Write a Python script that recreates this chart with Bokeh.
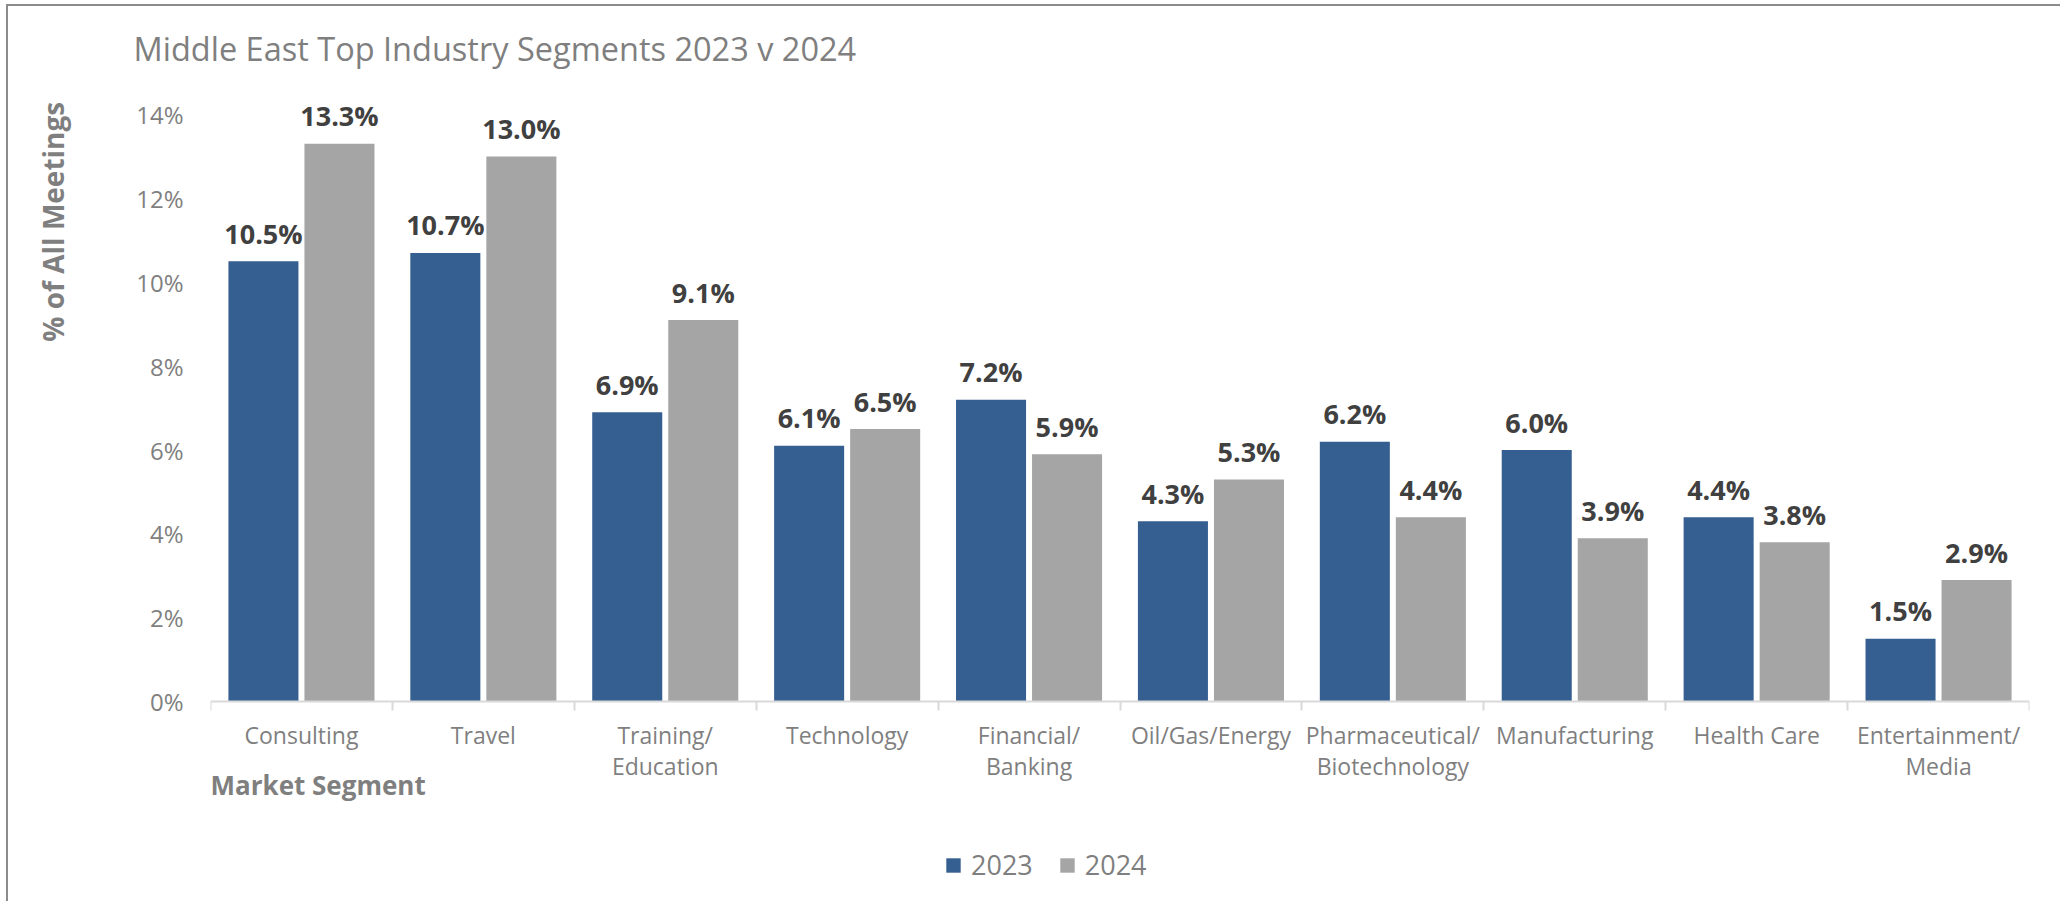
from bokeh.plotting import figure
from bokeh.models import (ColumnDataSource, Range1d, FixedTicker, PrintfTickFormatter,
                          Title, Legend, LegendItem, Label)
from bokeh.transform import dodge
from bokeh.core.properties import value
from bokeh.embed import file_html
from bokeh.resources import INLINE

categories = ["Consulting", "Travel", "Training/\nEducation", "Technology", "Financial/\nBanking",
              "Oil/Gas/Energy", "Pharmaceutical/\nBiotechnology", "Manufacturing", "Health Care",
              "Entertainment/\nMedia"]
values_2023 = [10.5, 10.7, 6.9, 6.1, 7.2, 4.3, 6.2, 6.0, 4.4, 1.5]
values_2024 = [13.3, 13.0, 9.1, 6.5, 5.9, 5.3, 4.4, 3.9, 3.8, 2.9]
y_ticks = [0, 2, 4, 6, 8, 10, 12, 14]
series_names = ["2023", "2024"]
title_text = "Middle East Top Industry Segments 2023 v 2024"
y_label = "% of All  Meetings"
x_label = "Market Segment"

FONT = "Open Sans"
BLUE = "#365F91"
GRAY = "#A5A5A5"
TXT = "#7F7F7F"

# layout (canvas pixels)
W, H = 2054, 897
TOP, LEFT, RIGHT = 80, 202, 33
ZERO_Y = 695           # canvas y of the 0% baseline
PX_PER_UNIT = 42.0     # pixels per 1 percentage point
y_end = (ZERO_Y - TOP) / PX_PER_UNIT
y_start = -(H - ZERO_Y) / PX_PER_UNIT

n = len(categories)
centers = [i + 0.5 for i in range(n)]
src = ColumnDataSource(dict(
    x=centers,
    v23=values_2023,
    v24=values_2024,
    l23=[f"{v:.1f}%" for v in values_2023],
    l24=[f"{v:.1f}%" for v in values_2024],
))

p = figure(width=W, height=H, output_backend="svg", toolbar_location=None,
           x_range=Range1d(0, n), y_range=Range1d(y_start, y_end),
           min_border_left=LEFT, min_border_right=RIGHT, min_border_top=TOP, min_border_bottom=0)
p.styles = {"margin-left": "6px", "margin-top": "4px",
            "border-left": "2px solid #8C8C8C", "border-top": "2px solid #8C8C8C"}
p.outline_line_color = None
p.xgrid.visible = False
p.ygrid.visible = False
p.background_fill_color = "white"
p.border_fill_color = "white"

r23 = p.vbar(x=dodge("x", -0.209, range=p.x_range), top="v23", bottom=0, width=0.385, source=src,
             fill_color=BLUE, line_color=None)
r24 = p.vbar(x=dodge("x", 0.209, range=p.x_range), top="v24", bottom=0, width=0.385, source=src,
             fill_color=GRAY, line_color=None)

for col, top, off in (("l23", "v23", -0.209), ("l24", "v24", 0.209)):
    p.text(x=dodge("x", off, range=p.x_range), y=top, text=col, source=src,
           text_font=value(FONT), text_font_style="bold", text_font_size="27px",
           text_color="#404040", text_align="center", text_baseline="alphabetic", y_offset=-28)

# x axis drawn at the 0 baseline: labels at category centres, separator ticks at boundaries
xa = p.xaxis[0]
xa.fixed_location = 0
xa.ticker = FixedTicker(ticks=centers, minor_ticks=list(range(n + 1)))
xa.major_label_overrides = {c: lab for c, lab in zip(centers, categories)}
xa.axis_line_color = "#D9D9D9"
xa.axis_line_width = 2
xa.major_tick_line_color = None
xa.major_tick_out = 0
xa.major_tick_in = 0
xa.minor_tick_line_color = "#D9D9D9"
xa.minor_tick_line_width = 2
xa.minor_tick_out = 9
xa.minor_tick_in = 0
xa.major_label_standoff = 8
xa.major_label_text_font = FONT
xa.major_label_text_font_size = "23px"
xa.major_label_text_color = TXT
xa.major_label_text_line_height = 0.97

# y axis
ya = p.yaxis[0]
ya.ticker = FixedTicker(ticks=y_ticks)
ya.formatter = PrintfTickFormatter(format="%d%%")
ya.axis_line_color = None
ya.major_tick_line_color = None
ya.minor_tick_line_color = None
ya.major_tick_out = 0
ya.major_tick_in = 0
ya.minor_tick_out = 0
ya.minor_tick_in = 0
ya.major_label_standoff = 27
ya.major_label_text_font = FONT
ya.major_label_text_font_size = "24px"
ya.major_label_text_color = TXT
# invisible spacer label to push the rotated title outwards
ya.axis_label = " "
ya.axis_label_standoff = 36
ya.axis_label_text_font_size = "1px"

# chart title
p.add_layout(Title(text=title_text, align="left", offset=-77, vertical_align="bottom",
                   standoff=34, text_font=FONT, text_font_style="normal",
                   text_font_size="32.5px", text_color=TXT), "above")
# y label (rotated, placed at top of the left side)
p.add_layout(Title(text=y_label, align="right", offset=7, vertical_align="top",
                   standoff=40, text_font=FONT, text_font_style="bold",
                   text_font_size="28px", text_color=TXT), "left")
# x label
p.add_layout(Label(x=0, y=H - 778, x_units="data", y_units="screen", text=x_label,
                   text_font=FONT, text_font_style="bold", text_font_size="26px",
                   text_color=TXT, text_align="left", text_baseline="alphabetic"))

legend = Legend(items=[LegendItem(label=series_names[0], renderers=[r23]),
                       LegendItem(label=series_names[1], renderers=[r24])],
                orientation="horizontal", location=(734, 20),
                glyph_width=18, glyph_height=18, label_standoff=9, spacing=25,
                padding=0, margin=0, border_line_color=None, background_fill_alpha=0,
                label_text_font=FONT, label_text_font_size="27px", label_text_color=TXT)
p.add_layout(legend, "center")

open("out.html", "w").write(file_html(p, INLINE))
